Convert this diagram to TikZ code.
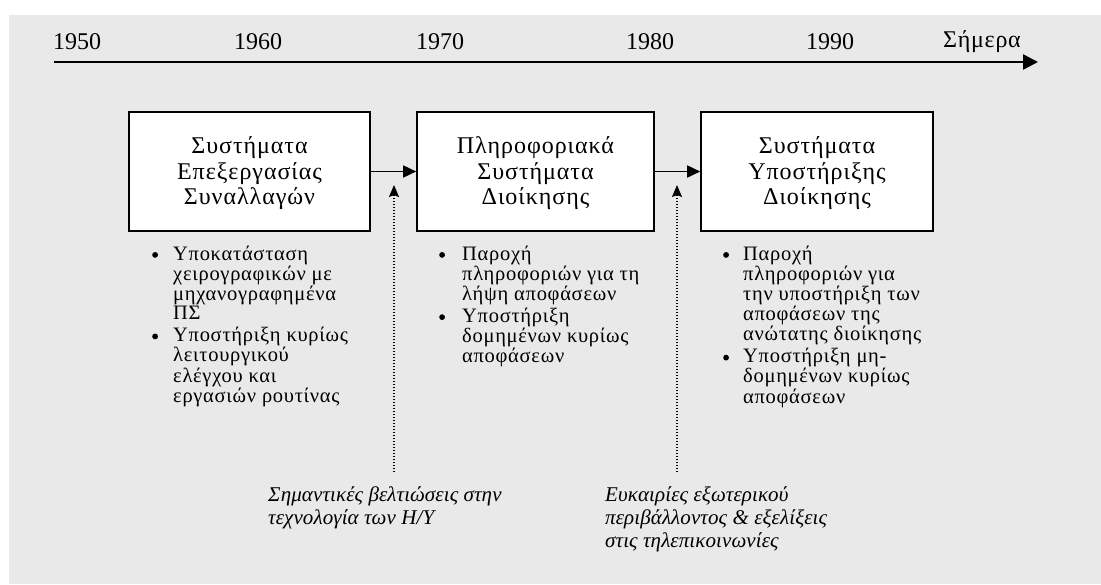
\documentclass[tikz,border=0pt]{standalone}
\usepackage{fontspec}
\setmainfont{Liberation Serif}
\usetikzlibrary{arrows.meta}
\definecolor{panel}{HTML}{E9E9E9}
\newcommand\itemmark{\raisebox{2.2pt}{\tikz\fill (0,0) circle[radius=2.9pt];}}
\begin{document}
\begin{tikzpicture}[x=1pt,y=-1pt,
  year/.style={font=\fontsize{24}{26}\selectfont, inner sep=0pt},
  sysbox/.style={draw, line width=1.6pt, fill=white, align=center,
    minimum height=119pt, inner sep=0pt,
    font=\fontsize{24}{25.5}\selectfont\addfontfeature{LetterSpace=4}},
  flow/.style={line width=1.6pt, -{Triangle[length=13pt,width=12pt]}},
  influence/.style={line width=1.4pt, dash pattern=on 1.4pt off 1.6pt,
    -{Stealth[length=12pt,width=10pt,inset=2pt]}},
  bullets/.style={anchor=base west, inner sep=0pt,
    font=\fontsize{20.5}{19.3}\selectfont\addfontfeature{LetterSpace=3.5}},
  remark/.style={anchor=base west, inner sep=0pt,
    font=\fontsize{21}{23}\selectfont\itshape\addfontfeature{LetterSpace=0.5}}
]
\useasboundingbox (0,0) rectangle (1101,584);
\fill[white] (0,0) rectangle (1101,584);
\fill[panel] (9,15) rectangle (1101,584);

% time axis
\coordinate (axisstart) at (54,62);
\coordinate (axisend) at (1038,62);
\draw[line width=2.6pt, -{Triangle[length=15pt,width=15pt]}] (axisstart) -- (axisend);
\node[year] (y1950) at (77,42) {1950};
\node[year] (y1960) at (258,42) {1960};
\node[year] (y1970) at (440,42) {1970};
\node[year] (y1980) at (650,42) {1980};
\node[year] (y1990) at (830,42) {1990};
\node[year] (ynow)  at (982,42) {\addfontfeature{LetterSpace=3}Σήμερα};

% the three generations of systems
\node[sysbox, minimum width=241pt] (tps) at (249.5,171.5)
  {\raisebox{-2.5pt}[\height][\depth]{\begin{tabular}{@{}c@{}}Συστήματα\\Επεξεργασίας\\Συναλλαγών\end{tabular}}};
\node[sysbox, minimum width=237pt] (mis) at (535.5,171.5)
  {\raisebox{-2.5pt}[\height][\depth]{\begin{tabular}{@{}c@{}}Πληροφοριακά\\Συστήματα\\Διοίκησης\end{tabular}}};
\node[sysbox, minimum width=232pt] (dss) at (817,171.5)
  {\raisebox{-2.5pt}[\height][\depth]{\begin{tabular}{@{}c@{}}Συστήματα\\Υποστήριξης\\Διοίκησης\end{tabular}}};
\draw[flow] (tps) -- (mis);
\draw[flow] (mis) -- (dss);

% driving factors
\coordinate (f1foot) at (394,472);
\coordinate (f1tip) at (394,185);
\coordinate (f2foot) at (677,472);
\coordinate (f2tip) at (677,185);
\draw[influence] (f1foot) -- (f1tip);
\draw[influence] (f2foot) -- (f2tip);

% characteristics of each generation
\node[bullets] (tpsnotes) at (152,260) {%
  \begin{tabular}[t]{@{}p{21pt}@{}l@{}}
  \itemmark & Υποκατάσταση\\
   & χειρογραφικών με\\
   & μηχανογραφημένα\\
   & ΠΣ\\[1.5pt]
  \itemmark & Υποστήριξη κυρίως\\
   & λειτουργικού\\
   & ελέγχου και\\
   & εργασιών ρουτίνας
  \end{tabular}};
\node[bullets] (misnotes) at (439,260) {%
  \begin{tabular}[t]{@{}p{23pt}@{}l@{}}
  \itemmark & Παροχή\\
   & πληροφοριών για τη\\
   & λήψη αποφάσεων\\[1.5pt]
  \itemmark & Υποστήριξη\\
   & δομημένων κυρίως\\
   & αποφάσεων
  \end{tabular}};
\node[bullets] (dssnotes) at (723,260) {%
  \begin{tabular}[t]{@{}p{20pt}@{}l@{}}
  \itemmark & Παροχή\\
   & πληροφοριών για\\
   & την υποστήριξη των\\
   & αποφάσεων της\\
   & ανώτατης διοίκησης\\[1.5pt]
  \itemmark & Υποστήριξη μη-\\
   & δομημένων κυρίως\\
   & αποφάσεων
  \end{tabular}};

% labels of the driving factors
\node[remark] (f1text) at (268,501)
  {\begin{tabular}[t]{@{}l@{}}Σημαντικές βελτιώσεις στην\\τεχνολογία των Η/Υ\end{tabular}};
\node[remark] (f2text) at (605,501)
  {\begin{tabular}[t]{@{}l@{}}Ευκαιρίες εξωτερικού\\περιβάλλοντος \& εξελίξεις\\στις τηλεπικοινωνίες\end{tabular}};
\end{tikzpicture}
\end{document}
